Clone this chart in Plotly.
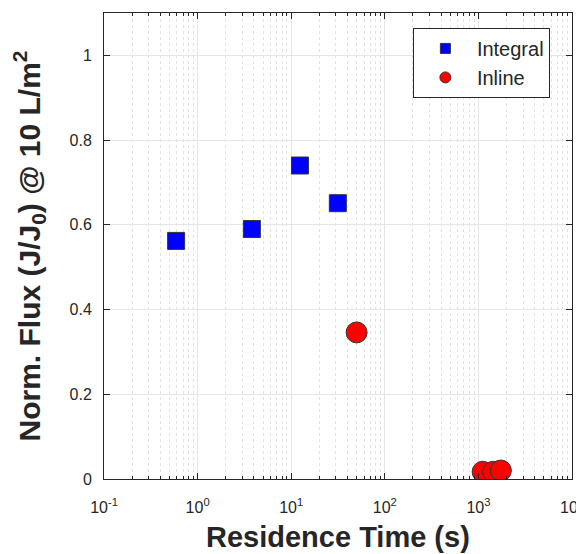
import plotly.graph_objects as go

# Data
integral_x = [0.59, 3.8, 12.4, 31.5]
integral_y = [0.562, 0.590, 0.740, 0.651]
inline_x = [50, 1110, 1440, 1740]
inline_y = [0.346, 0.017, 0.017, 0.020]

xtick_vals = [0.1, 1, 10, 100, 1000, 10000]
xtick_text = ["10<sup>-1</sup>", "10<sup>0</sup>", "10<sup>1</sup>", "10<sup>2</sup>",
              "10<sup>3</sup>", "10<sup>4</sup>"]
xminor_vals = [m * 10.0 ** e for e in range(-1, 4) for m in range(2, 10)]
ytick_vals = [0, 0.2, 0.4, 0.6, 0.8, 1.0]
ytick_text = ["0", "0.2", "0.4", "0.6", "0.8", "1"]

x_title = "<b>Residence Time (s)</b>"
y_title = "<b>Norm. Flux (J/J<sub>0</sub>) @ 10 L/m<sup>2</sup></b>"

FONT = "Liberation Sans, Arial, sans-serif"
TXT = "#262626"

fig = go.Figure()
fig.add_trace(go.Scatter(x=integral_x, y=integral_y, mode="markers", name="Integral",
                         showlegend=False,
                         marker=dict(symbol="square", size=17, color="#0000ff",
                                     line=dict(color="#333333", width=1))))
fig.add_trace(go.Scatter(x=inline_x, y=inline_y, mode="markers", name="Inline",
                         showlegend=False,
                         marker=dict(symbol="circle", size=21, color="#ff0000",
                                     line=dict(color="#333333", width=1))))
# legend-only entries (smaller legend symbols)
fig.add_trace(go.Scatter(x=[None], y=[None], mode="markers", name="Integral",
                         marker=dict(symbol="square", size=10, color="#0000ff",
                                     line=dict(color="#333333", width=1))))
fig.add_trace(go.Scatter(x=[None], y=[None], mode="markers", name="Inline",
                         marker=dict(symbol="circle", size=11, color="#ff0000",
                                     line=dict(color="#333333", width=1))))

fig.update_layout(
    width=576, height=546,
    margin=dict(l=96, r=12, t=5, b=75),
    paper_bgcolor="white", plot_bgcolor="white",
    font=dict(family=FONT, color=TXT, size=16),
    legend=dict(x=0.66, y=0.968, xanchor="left", yanchor="top",
                bgcolor="white", bordercolor="#262626", borderwidth=1,
                font=dict(size=20, color=TXT, family=FONT),
                itemwidth=53),
    xaxis=dict(
        type="log", range=[-1.00001, 4.00001],
        tickmode="array", tickvals=xtick_vals, ticktext=xtick_text,
        ticks="inside", ticklen=6, tickcolor="#262626",
        showline=True, linecolor="#262626", linewidth=1, mirror="allticks",
        showgrid=True, gridcolor="#e6e6e6", gridwidth=1,
        tickfont=dict(size=16, color=TXT),
        ticklabelstandoff=14,
        ticklabeloverflow="allow",
        automargin=False,
        minor=dict(tickmode="array", tickvals=xminor_vals, ticks="inside",
                   ticklen=3, tickcolor="#262626", showgrid=True,
                   gridcolor="#e2e2e2", griddash="dot", gridwidth=1),
        zeroline=False,
    ),
    yaxis=dict(
        range=[0, 1.1],
        tickmode="array", tickvals=ytick_vals, ticktext=ytick_text,
        ticks="inside", ticklen=6, tickcolor="#262626",
        showline=True, linecolor="#262626", linewidth=1, mirror="allticks",
        showgrid=True, gridcolor="#e6e6e6", gridwidth=1,
        tickfont=dict(size=16, color=TXT),
        ticklabelstandoff=8,
        automargin=False,
        title=dict(text=y_title, font=dict(size=30, color=TXT), standoff=22),
        zeroline=False,
    ),
    annotations=[dict(text=x_title, xref="paper", yref="paper", x=0.5, y=0,
                      xanchor="center", yanchor="middle", yshift=-58,
                      showarrow=False, font=dict(size=29, color=TXT, family=FONT))],
)

fig.write_html("out.html")
